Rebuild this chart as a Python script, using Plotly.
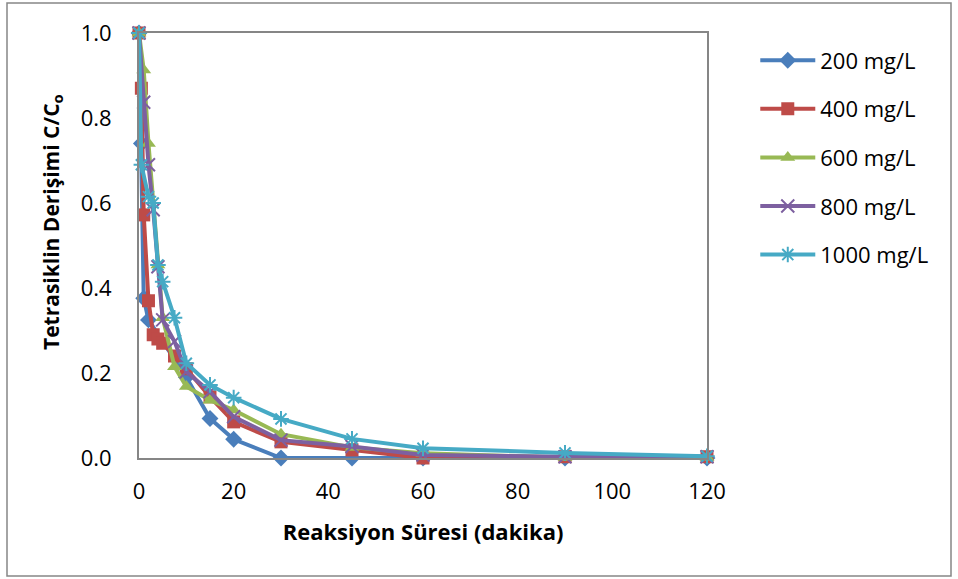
import plotly.graph_objects as go

time_min = [0, 0.5, 1, 2, 3, 4, 5, 7.5, 10, 15, 20, 30, 45, 60, 90, 120]

c200 = [1.0, 0.74, 0.376, 0.325, None, None, None, None, 0.19, 0.093, 0.044, 0.0, 0.0, 0.0, 0.0, 0.0]
c400 = [1.0, 0.87, 0.572, 0.37, 0.29, 0.28, 0.27, 0.24, 0.21, 0.144, 0.085, 0.038, 0.019, 0.0, 0.003, 0.003]
c600 = [1.0, None, 0.913, 0.74, None, 0.454, 0.33, 0.215, 0.168, 0.136, 0.113, 0.056, 0.025, 0.011, 0.001, 0.001]
c800 = [1.0, None, 0.837, 0.69, 0.584, 0.45, 0.325, 0.274, 0.203, 0.156, 0.097, 0.042, 0.027, 0.007, 0.003, 0.003]
c1000 = [1.0, 0.69, None, 0.615, 0.60, 0.454, 0.415, 0.33, 0.223, 0.172, 0.142, 0.092, 0.045, 0.023, 0.012, 0.004]

series_names = ["200 mg/L", "400 mg/L", "600 mg/L", "800 mg/L", "1000 mg/L"]
series_vals = [c200, c400, c600, c800, c1000]
colors = ["#4A7EBB", "#BE4B48", "#98B954", "#7D60A0", "#46AAC5"]
symbols = ["diamond", "square", "triangle-up", "x-thin", "asterisk"]
sizes = [13, 13, 13, 13, 13]

x_ticks = [0, 20, 40, 60, 80, 100, 120]
y_ticks = [0.0, 0.2, 0.4, 0.6, 0.8, 1.0]

x_title = "Reaksiyon Süresi (dakika)"
y_title = "Tetrasiklin Derişimi C/C<sub>o</sub>"

FONT = "Open Sans"

fig = go.Figure()
for i, (name, vals) in enumerate(zip(series_names, series_vals)):
    open_sym = symbols[i] in ("x-thin", "asterisk")
    fig.add_trace(go.Scatter(
        x=time_min, y=vals, name=name, mode="lines+markers",
        connectgaps=True, cliponaxis=False,
        legendgroup=name,
        line=dict(color=colors[i], width=4),
        marker=dict(symbol=symbols[i], size=sizes[i], color=colors[i],
                    line=dict(color=colors[i], width=2 if open_sym else 0)),
    ))

axis_line = "#868686"
fig.update_layout(
    width=958, height=579,
    margin=dict(l=139, r=251, t=33, b=121),
    paper_bgcolor="white", plot_bgcolor="white",
    font=dict(family=FONT, size=22, color="black"),
    showlegend=True,
    legend=dict(x=1.085, y=0.985, xanchor="left", yanchor="top",
                font=dict(family=FONT, size=22, color="black"),
                itemwidth=55,
                tracegroupgap=17, bgcolor="rgba(0,0,0,0)"),
    xaxis=dict(range=[0, 120], tickvals=x_ticks, ticktext=[str(v) for v in x_ticks],
               showgrid=False, zeroline=False, showline=True, linecolor=axis_line,
               linewidth=2, mirror=True, ticks="", ticklabelstandoff=13,
               tickfont=dict(family=FONT, size=22),
               title=dict(text=f"<b>{x_title}</b>", standoff=20,
                          font=dict(family=FONT, size=22))),
    yaxis=dict(range=[0, 1], tickvals=y_ticks, ticktext=[f"{v:.1f}" for v in y_ticks],
               showgrid=False, zeroline=False, showline=True, linecolor=axis_line,
               linewidth=2, mirror=True, ticks="", ticklabelstandoff=21,
               tickfont=dict(family=FONT, size=22)),
)

fig.add_annotation(text=f"<b>{y_title}</b>", textangle=-90, showarrow=False,
                   xref="paper", yref="paper", x=(52 - 139) / 568, y=(458 - 222) / 425,
                   xanchor="center", yanchor="middle",
                   font=dict(family=FONT, size=21, color="black"))

fig.add_shape(type="rect", xref="paper", yref="paper",
              x0=(7 - 139) / 568, x1=(951 - 139) / 568,
              y0=(458 - 576) / 425, y1=(458 - 3) / 425,
              line=dict(color="#868686", width=1.5), fillcolor="rgba(0,0,0,0)", layer="below")

fig.write_html("out.html")
